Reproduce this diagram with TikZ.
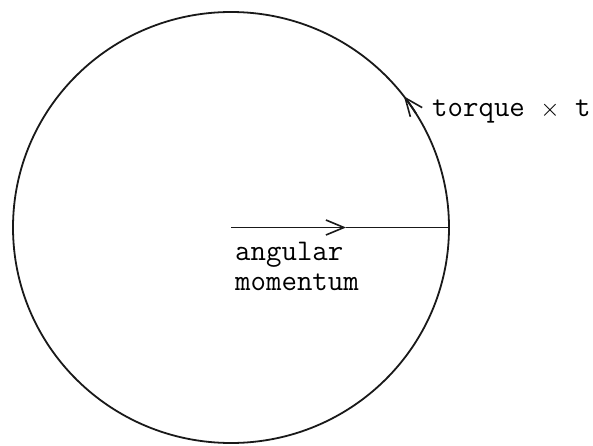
\documentclass[tikz,border=0pt]{standalone}
\usepackage{fontspec}
\usetikzlibrary{arrows.meta}
\begin{document}
\begin{tikzpicture}[x=1pt,y=1pt,
  line/.style={line width=1.8pt,black!90},
  barb/.style={-{Straight Barb[length=18pt,width=15pt,line width=1.6pt]}},
  lbl/.style={anchor=base west,inner sep=0pt,font=\ttfamily\fontsize{30}{34}\selectfont}]
\useasboundingbox (0,0) rectangle (593,445);
\coordinate (c) at (231,217.5);
\coordinate (rim) at (449,217.5);
\coordinate (mid) at (346,217.5);
% circle
\draw[line] (c) ellipse[x radius=218,y radius=215.5];
% angular momentum vector
\draw[line,barb] (c) -- (mid);
\draw[line] (mid) -- (rim);
% torque x t arrow on the rim
\draw[line,barb] (c) ++(32:218 and 215.5) arc[start angle=32,end angle=37.5,x radius=218,y radius=215.5];
% labels
\node[lbl] (am1) at (235,185) {angular};
\node[lbl] (am2) at (235,155) {momentum};
\node[lbl] (tq) at (432,328) {torque \(\times\) t};
\end{tikzpicture}
\end{document}
